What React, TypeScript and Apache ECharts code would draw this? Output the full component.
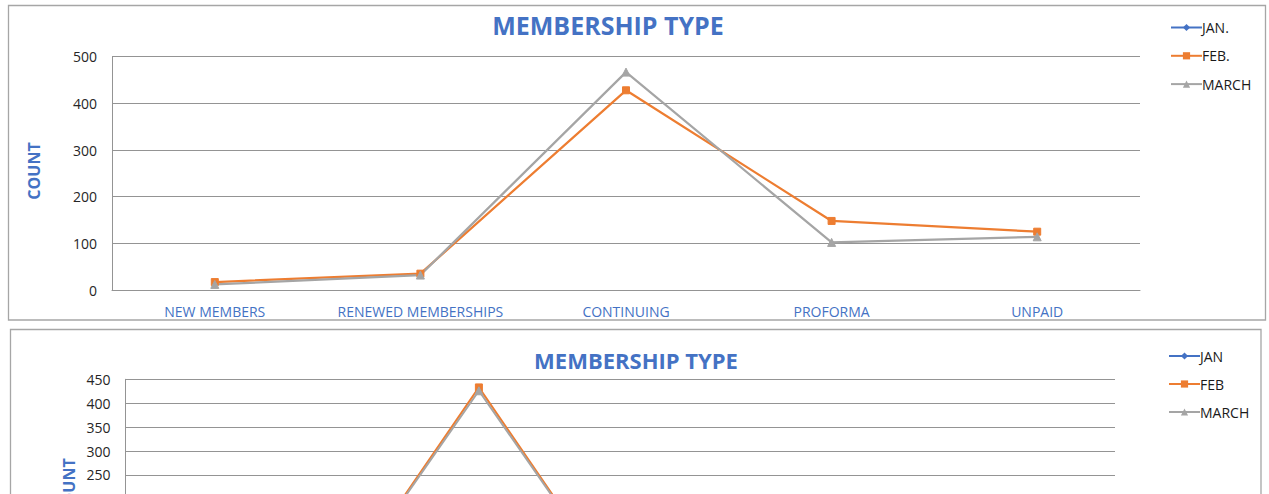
import { useEffect, useRef } from "react";
import * as echarts from "echarts";

// ---------- data ----------
const topCategories = ["NEW MEMBERS", "RENEWED MEMBERSHIPS", "CONTINUING", "PROFORMA", "UNPAID"];
const topSeriesNames = ["JAN.", "FEB.", "MARCH"];
const topJan: (number | null)[] = [null, null, null, null, null];
const topFeb = [17, 35, 428, 148, 125];
const topMarch = [12, 32, 467, 102, 114];
const topYMax = 500;
const topYStep = 100;

const bottomCategories = ["NEW MEMBERS", "RENEWALS", "CONTINUING", "PROFORMA", "UNPAID", "LAPSED", "OTHER"];
const bottomSeriesNames = ["JAN", "FEB", "MARCH"];
const bottomJan: (number | null)[] = [null, null, null, null, null, null, null];
const bottomFeb = [8, 3, 433, 2, 5, 1, 0];
const bottomMarch = [6, 2, 426, 1, 4, 1, 0];
const bottomYMax = 450;
const bottomYStep = 50;

const chartTitle = "MEMBERSHIP TYPE";
const yAxisTitle = "COUNT";

// ---------- styles ----------
const FONT = "'Open Sans', sans-serif";
const BLUE = "#4472C4";
const ORANGE = "#ED7D31";
const GREY = "#A5A5A5";
const GRIDC = "#949494";
const BORDER = "#a6a6a6";

function mkSeries(name: string, data: (number | null)[], color: string, symbol: string, size: number, axis: number, width: number) {
  return {
    name,
    type: "line",
    xAxisIndex: axis,
    yAxisIndex: axis,
    data,
    symbol,
    symbolSize: size,
    showSymbol: true,
    lineStyle: { color, width },
    itemStyle: { color, borderColor: color },
    emphasis: { disabled: true },
  };
}

function mkXAxis(idx: number, data: string[]) {
  return {
    type: "category",
    gridIndex: idx,
    data,
    axisLine: { show: true, lineStyle: { color: GRIDC, width: 1 } },
    axisTick: { show: false },
    axisLabel: { color: BLUE, fontSize: 14, fontFamily: FONT, margin: 14, interval: 0 },
  };
}

function mkYAxis(idx: number, max: number, step: number) {
  return {
    type: "value",
    gridIndex: idx,
    min: 0,
    max,
    interval: step,
    axisLine: { show: true, lineStyle: { color: GRIDC, width: 1 } },
    axisTick: { show: false },
    splitLine: { show: true, lineStyle: { color: GRIDC, width: 1 } },
    axisLabel: { color: "#262626", fontSize: 14, fontFamily: FONT, margin: 15 },
  };
}

function textEl(text: string, x: number, y: number, size: number, rot = 0) {
  return {
    type: "text",
    x,
    y,
    rotation: rot,
    style: {
      text,
      fill: BLUE,
      fontSize: size,
      fontWeight: "bold",
      fontFamily: FONT,
      align: "center",
      verticalAlign: "middle",
      textAlign: "center",
      textVerticalAlign: "middle",
    },
  };
}

function mkLegend(left: number, top: number, gap: number, data: string[]) {
  return {
    orient: "vertical",
    left,
    top,
    itemWidth: 31,
    itemHeight: 9,
    itemGap: gap,
    selectedMode: false,
    data,
    textStyle: { fontSize: 14, color: "#1a1a1a", fontFamily: FONT, padding: [0, 0, 0, -5] },
  };
}

export default function App() {
  const ref = useRef<HTMLDivElement>(null);
  useEffect(() => {
    if (!ref.current) return;
    const chart = echarts.init(ref.current, null, { renderer: "svg" });
    const option: any = {
      animation: false,
      backgroundColor: "#ffffff",
      textStyle: { fontFamily: FONT },
      grid: [
        { left: 112, top: 56.7, width: 1028, height: 233.3 },
        { left: 125.5, top: 379.3, width: 989.5, height: 215.1 },
      ],
      xAxis: [mkXAxis(0, topCategories), mkXAxis(1, bottomCategories)],
      yAxis: [mkYAxis(0, topYMax, topYStep), mkYAxis(1, bottomYMax, bottomYStep)],
      legend: [mkLegend(1165, 15.5, 14.3, topSeriesNames), mkLegend(1163, 344, 14, bottomSeriesNames)],
      series: [
        mkSeries(topSeriesNames[0], topJan, BLUE, "diamond", 7, 0, 2.25),
        mkSeries(topSeriesNames[1], topFeb, ORANGE, "rect", 7, 0, 2.25),
        mkSeries(topSeriesNames[2], topMarch, GREY, "triangle", 8, 0, 2.25),
        mkSeries(bottomSeriesNames[0], bottomJan, BLUE, "diamond", 7, 1, 2),
        mkSeries(bottomSeriesNames[1], bottomFeb, ORANGE, "rect", 7, 1, 2),
        mkSeries(bottomSeriesNames[2], bottomMarch, GREY, "triangle", 8, 1, 2),
      ],
      graphic: [
        {
          type: "rect",
          shape: { x: 8.5, y: 5.5, width: 1257, height: 314.5 },
          style: { fill: "none", stroke: BORDER, lineWidth: 1.3 },
          silent: true,
        },
        {
          type: "rect",
          shape: { x: 10.5, y: 329.5, width: 1250.5, height: 300 },
          style: { fill: "none", stroke: BORDER, lineWidth: 1.3 },
          silent: true,
        },
        textEl(chartTitle, 608, 25, 25),
        textEl(chartTitle, 636, 360, 22),
        textEl(yAxisTitle, 33.5, 171, 16, Math.PI / 2),
        textEl(yAxisTitle, 69, 487, 16, Math.PI / 2),
      ],
    };
    chart.setOption(option);
    return () => chart.dispose();
  }, []);
  return (
    <div
      style={{ position: "absolute", left: 0, top: 0, width: 1269, height: 494, overflow: "hidden", background: "#fff" }}
    >
      <div ref={ref} style={{ width: 1269, height: 640 }} />
    </div>
  );
}
